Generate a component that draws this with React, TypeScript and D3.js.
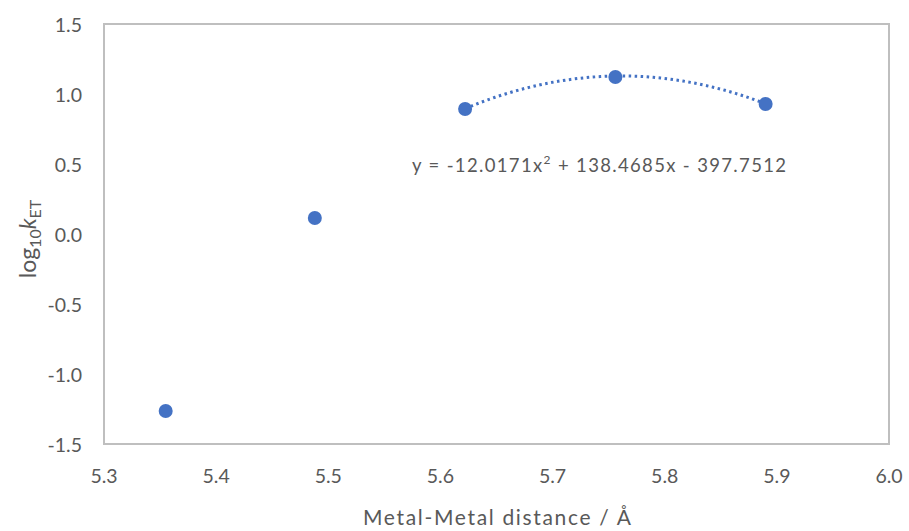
import React from "react";
import * as d3 from "d3";

const distances = [5.355, 5.488, 5.622, 5.756, 5.890];
const logK = [-1.264, 0.114, 0.893, 1.121, 0.929];
const xTicks = [5.3, 5.4, 5.5, 5.6, 5.7, 5.8, 5.9, 6.0];
const yTicks = [1.5, 1.0, 0.5, 0.0, -0.5, -1.0, -1.5];
const fitCoeffs = [-12.0171, 138.4685, -397.7512];
const fitRange = [5.622, 5.890];

export default function App() {
  const W = 909, H = 531;
  const left = 104, right = 889, top = 24, bottom = 444;
  const x = d3.scaleLinear().domain([5.3, 6.0]).range([left, right]);
  const y = d3.scaleLinear().domain([-1.5, 1.5]).range([bottom, top]);
  const fitPts: [number, number][] = d3.range(0, 41).map((i) => {
    const xv = fitRange[0] + (fitRange[1] - fitRange[0]) * (i / 40);
    const yv = fitCoeffs[0] * xv * xv + fitCoeffs[1] * xv + fitCoeffs[2];
    return [x(xv), y(yv)];
  });
  const line = d3.line().curve(d3.curveMonotoneX)(fitPts) || "";
  const font = "Lato, 'Open Sans', sans-serif";
  const textColor = "#595959";
  return (
    <svg width={W} height={H} style={{ position: "absolute", left: 0, top: 0, background: "#fff" }}>
      <rect x={left} y={top} width={right - left} height={bottom - top} fill="none" stroke="#bfbfbf" strokeWidth={2} />
      {yTicks.map((t) => (
        <text key={"y" + t} x={82} y={y(t) + 8} textAnchor="end" fontFamily={font} fontSize={19.5} fill={textColor}>
          {t.toFixed(1)}
        </text>
      ))}
      {xTicks.map((t) => (
        <text key={"x" + t} x={x(t)} y={483} textAnchor="middle" fontFamily={font} fontSize={19.5} fill={textColor}>
          {t.toFixed(1)}
        </text>
      ))}
      <path d={line} fill="none" stroke="#4472c4" strokeWidth={3} strokeDasharray="2.5 3.5" />
      {distances.map((d, i) => (
        <circle key={i} cx={x(d)} cy={y(logK[i])} r={7} fill="#4472c4" />
      ))}
      <text x={412} y={172} fontFamily={font} fontSize={18.5} fill={textColor} textLength={374} lengthAdjust="spacing">
        y = -12.0171x<tspan fontSize={12} dy={-8}>2</tspan><tspan dy={8}> + 138.4685x - 397.7512</tspan>
      </text>
      <text x={497} y={525} textAnchor="middle" fontFamily={font} fontSize={21} fill={textColor} textLength={268} lengthAdjust="spacing">
        Metal-Metal distance / Å
      </text>
      <text transform={`translate(36,239) rotate(-90)`} textAnchor="middle" fontFamily={font} fontSize={23} fill={textColor}>
        log<tspan fontSize={16} dy={5}>10</tspan><tspan dy={-5} fontStyle="italic">k</tspan><tspan fontSize={16} dy={5}>ET</tspan>
      </text>
    </svg>
  );
}
